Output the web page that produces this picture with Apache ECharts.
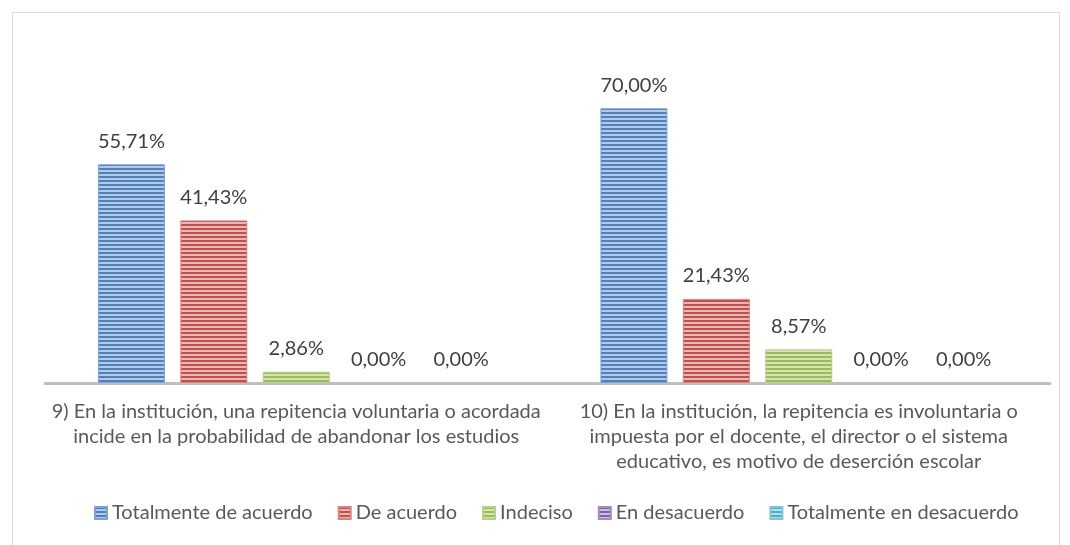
<!DOCTYPE html>
<html>
<head>
<meta charset="utf-8">
<script src="https://cdn.jsdelivr.net/npm/echarts@6/dist/echarts.min.js"></script>
<style>
  html, body { margin: 0; padding: 0; background: #fff; }
  #frame { position: absolute; left: 12px; top: 12px; width: 1046px; height: 560px; border: 1px solid #d9d9d9; }
  #chart { position: absolute; left: 0; top: 0; width: 1070px; height: 545px; }
</style>
</head>
<body>
<div id="frame"></div>
<div id="chart"></div>
<script>
var categories = [
    '9) En la institución, una repitencia voluntaria o acordada\nincide en la probabilidad de abandonar los estudios',
    '10) En la institución, la repitencia es involuntaria o\nimpuesta por el docente, el director o el sistema\neducativo, es motivo de deserción escolar'
];
var seriesNames = ['Totalmente de acuerdo', 'De acuerdo', 'Indeciso', 'En desacuerdo', 'Totalmente en desacuerdo'];
var totalmenteAcuerdo = [55.71, 70.00];
var deAcuerdo = [41.43, 21.43];
var indeciso = [2.86, 8.57];
var enDesacuerdo = [0.00, 0.00];
var totalmenteDesacuerdo = [0.00, 0.00];

// striped fill like the Excel pattern
function stripes(dark, light) {
    var c = document.createElement('canvas');
    c.width = 4; c.height = 4;
    var ctx = c.getContext('2d');
    ctx.fillStyle = dark; ctx.fillRect(0, 0, 4, 2);
    ctx.fillStyle = light; ctx.fillRect(0, 2, 4, 2);
    return { image: c, repeat: 'repeat' };
}

var fills = [
    stripes('#4f81bd', '#b3c9e6'),
    stripes('#c0504d', '#e9b8b6'),
    stripes('#9bbb59', '#d5e4b6'),
    stripes('#8064a2', '#cbbddb'),
    stripes('#4bacc6', '#b8e0eb')
];
var edges = ['#7da3d6', '#d98280', '#b7d08a', '#a28dbf', '#82c6d9'];

var chart = echarts.init(document.getElementById('chart'));
var values = [totalmenteAcuerdo, deAcuerdo, indeciso, enDesacuerdo, totalmenteDesacuerdo];

var series = values.map(function(v, i) {
    return {
        name: seriesNames[i],
        type: 'bar',
        data: v.map(function(x) {
            return { value: x, itemStyle: { borderWidth: x > 0 ? 1 : 0 } };
        }),
        barWidth: 67,
        barGap: '23%',
        itemStyle: { color: fills[i], borderColor: edges[i], borderWidth: 1 },
        label: {
            show: true,
            position: 'top',
            distance: 13,
            color: '#404040',
            fontSize: 20,
            fontFamily: 'Lato',
            formatter: function(p) { return p.value.toFixed(2).replace('.', ',') + '%'; }
        }
    };
});

chart.setOption({
    animation: false,
    textStyle: { fontFamily: 'Lato' },
    grid: { left: 45, right: 20, top: 69, bottom: 162, containLabel: false },
    legend: {
        bottom: 17,
        left: 89,
        itemWidth: 12,
        itemHeight: 12,
        itemGap: 25,
        itemTextGap: 5,
        icon: 'rect',
        textStyle: { color: '#595959', fontSize: 20, fontFamily: 'Lato' },
        data: seriesNames
    },
    xAxis: {
        type: 'category',
        data: categories,
        axisLine: { lineStyle: { color: '#bfbfbf', width: 3 } },
        axisTick: { show: false },
        axisLabel: { color: '#595959', fontSize: 20, lineHeight: 25, margin: 16, interval: 0, fontFamily: 'Lato' }
    },
    yAxis: {
        type: 'value',
        min: 0,
        max: 80,
        show: false,
        splitLine: { show: false }
    },
    series: series
});
</script>
</body>
</html>
